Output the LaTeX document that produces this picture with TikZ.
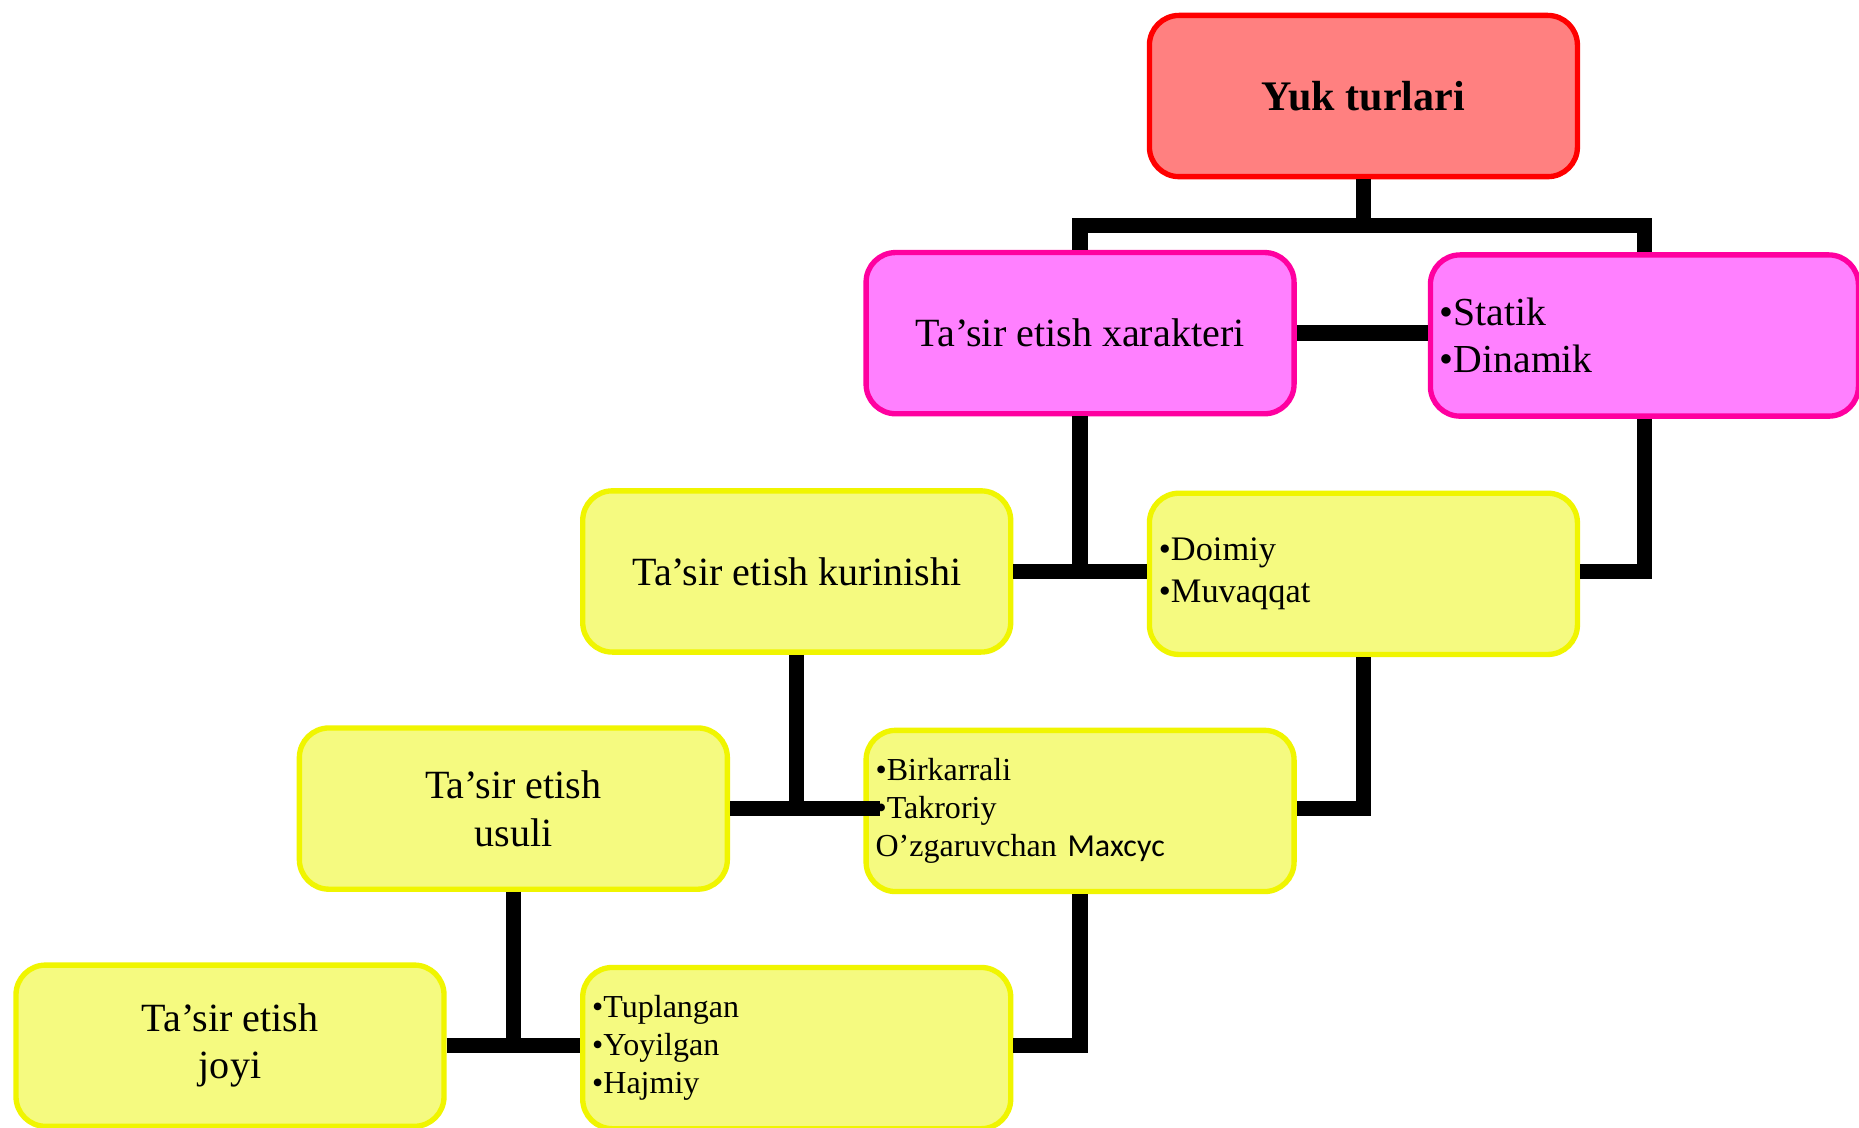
\documentclass[tikz,border=0pt]{standalone}
\usepackage{fontspec}
\usetikzlibrary{calc}
\setmainfont{Liberation Serif}
\newfontfamily\calibfont{Carlito}
\definecolor{topfill}{RGB}{255,128,128}
\definecolor{topdraw}{RGB}{255,0,0}
\definecolor{pinkfill}{RGB}{255,128,255}
\definecolor{pinkdraw}{RGB}{255,0,160}
\definecolor{yelfill}{RGB}{245,250,128}
\definecolor{yeldraw}{RGB}{240,245,0}
\begin{document}
\begin{tikzpicture}[x=1pt,y=-1pt,
  boxbase/.style={rectangle, rounded corners=25pt, minimum width=361pt, minimum height=136pt, line width=4.5pt, inner sep=0pt},
  topbox/.style={boxbase, fill=topfill, draw=topdraw},
  pinkbox/.style={boxbase, fill=pinkfill, draw=pinkdraw},
  yelbox/.style={boxbase, fill=yelfill, draw=yeldraw},
  titletext/.style={align=center, font=\fontsize{33.8}{40}\selectfont},
  listA/.style={align=left, text width=345pt, font=\fontsize{33.5}{40}\selectfont},
  listB/.style={align=left, text width=345pt, font=\fontsize{29}{35}\selectfont},
  listC/.style={align=left, text width=345pt, font=\fontsize{27}{32}\selectfont},
  conn/.style={line width=13pt, line join=miter, draw=black}
]
\fill[white] (0,0) rectangle (1568,951);
\useasboundingbox (0,0) rectangle (1568,951);

\node[topbox, titletext, font=\fontsize{35.5}{40}\selectfont\bfseries] (top) at (1150,81) {Yuk turlari};

\node[pinkbox, titletext] (xar) at (911,281) {Ta’sir etish xarakteri};
\node[pinkbox, listA] (stat) at (1387,283) {•Statik\\•Dinamik};

\node[yelbox, titletext] (kur) at (672,482) {Ta’sir etish kurinishi};
\node[yelbox, listB] (doim) at (1150,484) {•Doimiy\\•Muvaqqat};

\node[yelbox, titletext] (usul) at (433,682) {Ta’sir etish\\usuli};
\node[yelbox, listC] (birk) at (911,684) {•Birkarrali\\•Takroriy\\O’zgaruvchan {\calibfont Махсус}};

\node[yelbox, titletext] (joy) at (194,882) {Ta’sir etish\\joyi};
\node[yelbox, listC] (tup) at (672,884) {•Tuplangan\\•Yoyilgan\\•Hajmiy};

\coordinate (j1) at (1150,190);
\draw[conn] (top.south) -- (j1);
\draw[conn] (xar.north) |- (j1) -| (stat.north);
\draw[conn] (xar.east) -- (stat.west |- xar.east);

\draw[conn] (kur.east) -- (doim.west |- kur.east);
\draw[conn] (xar.south) -- (xar.south |- kur.east);
\draw[conn] (stat.south) |- (doim.east |- kur.east);

\coordinate (b1) at ($(birk.west |- usul.east)+(14,0)$);
\draw[conn] (usul.east) -- (b1);
\draw[conn] (kur.south) -- (kur.south |- usul.east);
\draw[conn] (doim.south) |- (birk.east |- usul.east);

\draw[conn] (joy.east) -- (tup.west |- joy.east);
\draw[conn] (usul.south) -- (usul.south |- joy.east);
\draw[conn] (birk.south) |- (tup.east |- joy.east);
\end{tikzpicture}
\end{document}
